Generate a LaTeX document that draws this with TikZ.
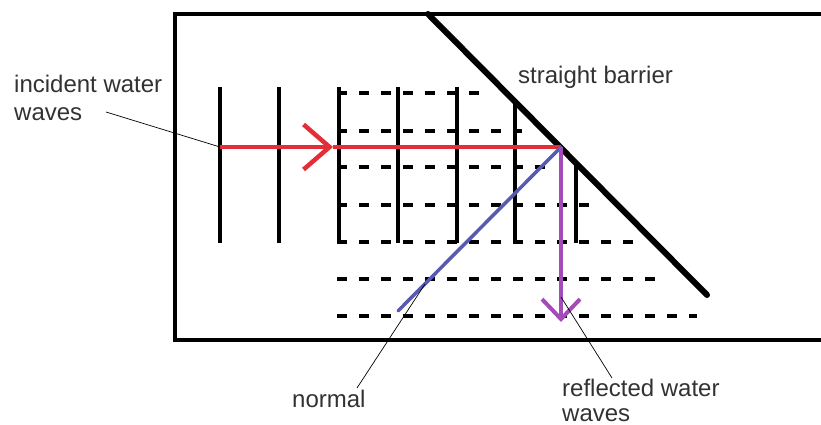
\documentclass[tikz,border=0pt]{standalone}
\usepackage{fontspec}
\setmainfont{Liberation Sans}
\usetikzlibrary{arrows.meta}
\definecolor{incidentred}{RGB}{228,45,55}
\definecolor{normalblue}{RGB}{88,90,178}
\definecolor{reflpurple}{RGB}{165,75,185}
\definecolor{labelgray}{RGB}{50,50,50}
\begin{document}
\begin{tikzpicture}[
  x=1pt,y=-1pt,
  tank/.style={line width=3.5pt},
  barrier/.style={line width=6pt,line cap=round},
  wave/.style={line width=3.5pt},
  reflwave/.style={line width=3.5pt,dash pattern=on 10pt off 12pt},
  ray/.style={line width=3.5pt},
  leader/.style={line width=0.7pt},
  lbl/.style={font=\fontsize{24}{28}\selectfont,text=labelgray,inner sep=0pt,align=left}
]
  \useasboundingbox (0,0) rectangle (821,425);
  % tank and barrier
  \draw[tank] (821,14) -- (175,14) -- (175,340) -- (821,340);
  \coordinate (btop) at (428,14);
  \coordinate (bend) at (707,295);
  \draw[barrier] (btop) -- (bend);
  % incident wavefronts
  \foreach \x in {220,279,339,398,457}
    \draw[wave] (\x,87) -- (\x,243);
  \draw[wave] (515,104) -- (515,243);
  \draw[wave] (576,165) -- (576,243);
  % reflected wavefronts
  \draw[reflwave] (337,93)  -- (482,93);
  \draw[reflwave] (337,131) -- (522,131);
  \draw[reflwave] (337,167) -- (553,167);
  \draw[reflwave] (337,205) -- (590,205);
  \draw[reflwave] (337,242) -- (637,242);
  \draw[reflwave] (337,279) -- (655,279);
  \draw[reflwave] (337,316) -- (697,316);
  % rays
  \coordinate (rstart) at (220,147);
  \coordinate (rhead) at (333,147);
  \coordinate (hit) at (561,147);
  \coordinate (nfoot) at (398,311);
  \coordinate (pfoot) at (561,322);
  \draw[ray,incidentred,-{Straight Barb[length=26pt,width=45pt,line width=4.5pt]}] (rstart) -- (rhead);
  \draw[ray,incidentred] (rhead) -- (hit);
  \draw[ray,normalblue,line cap=round] (hit) -- (nfoot);
  \draw[ray,reflpurple,-{Straight Barb[length=20pt,width=38pt,line width=4pt]}] (hit) -- (pfoot);
  % labels
  \node[lbl,anchor=north west] (incident) at (14,75) {incident water\\waves};
  \node[lbl,anchor=base west] (barriertxt) at (518,84) {straight barrier};
  \node[lbl,anchor=base west] (normal) at (292,407) {normal};
  \node[lbl,anchor=north west,font=\fontsize{24}{25}\selectfont] (reflected) at (562,379) {reflected water\\waves};
  \coordinate (incend) at (106,112);
  \coordinate (normend) at (425,284);
  \coordinate (reflend) at (561,297);
  \draw[leader] (incend) -- (rstart);
  \draw[leader] (357,388) -- (normend);
  \draw[leader] (612,378) -- (reflend);
\end{tikzpicture}
\end{document}
